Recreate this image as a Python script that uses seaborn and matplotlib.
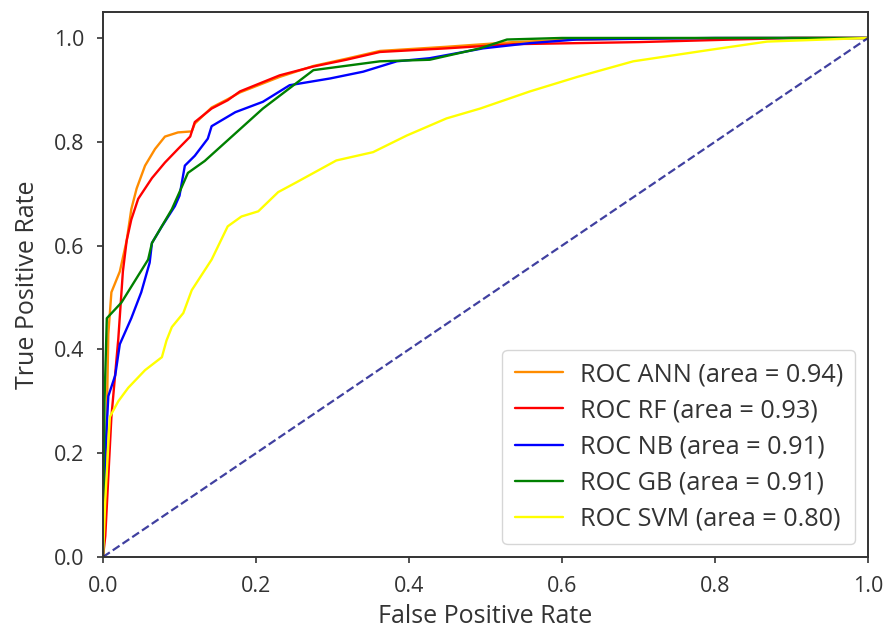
import matplotlib
matplotlib.use("Agg")
import matplotlib.pyplot as plt
import seaborn as sns
import pandas as pd

# ---- data ----
ann_fpr = [0, 0.003, 0.007, 0.011, 0.022, 0.031, 0.037, 0.044, 0.055, 0.068, 0.081, 0.098,
           0.116, 0.12, 0.142, 0.163, 0.179, 0.231, 0.275, 0.318, 0.362, 0.449, 0.536, 0.6,
           0.7, 0.85, 1.0]
ann_tpr = [0, 0.11, 0.43, 0.51, 0.55, 0.61, 0.67, 0.71, 0.754, 0.786, 0.81, 0.818,
           0.82, 0.835, 0.866, 0.882, 0.895, 0.925, 0.946, 0.96, 0.975, 0.983, 0.992, 0.996,
           0.999, 1.0, 1.0]

rf_fpr = [0, 0.003, 0.011, 0.02, 0.026, 0.031, 0.037, 0.046, 0.064, 0.081, 0.098, 0.114,
          0.12, 0.142, 0.163, 0.179, 0.231, 0.275, 0.318, 0.362, 0.449, 0.536, 0.7, 0.9, 1.0]
rf_tpr = [0, 0.04, 0.27, 0.42, 0.55, 0.61, 0.65, 0.69, 0.73, 0.76, 0.786, 0.81,
          0.838, 0.864, 0.88, 0.897, 0.928, 0.945, 0.958, 0.973, 0.98, 0.988, 0.992, 1.0, 1.0]

nb_fpr = [0, 0.003, 0.007, 0.016, 0.022, 0.037, 0.05, 0.061, 0.064, 0.077, 0.094, 0.1, 0.107,
          0.12, 0.137, 0.142, 0.173, 0.209, 0.244, 0.297, 0.34, 0.384, 0.427, 0.497, 0.558,
          0.619, 0.8, 1.0]
nb_tpr = [0, 0.2, 0.31, 0.35, 0.41, 0.46, 0.51, 0.567, 0.605, 0.637, 0.676, 0.696, 0.754,
          0.773, 0.806, 0.83, 0.857, 0.877, 0.909, 0.922, 0.935, 0.955, 0.961, 0.98, 0.99,
          0.997, 1.0, 1.0]

gb_fpr = [0, 0.002, 0.005, 0.024, 0.059, 0.064, 0.09, 0.1, 0.111, 0.133, 0.136, 0.209, 0.275,
          0.362, 0.427, 0.493, 0.528, 0.6, 1.0]
gb_tpr = [0, 0.3, 0.46, 0.49, 0.573, 0.605, 0.67, 0.703, 0.74, 0.763, 0.767, 0.864, 0.938,
          0.955, 0.958, 0.98, 0.997, 1.0, 1.0]

svm_fpr = [0, 0.003, 0.009, 0.02, 0.033, 0.055, 0.077, 0.083, 0.09, 0.105, 0.116, 0.142,
           0.163, 0.181, 0.203, 0.229, 0.253, 0.305, 0.353, 0.397, 0.449, 0.493, 0.558, 0.62,
           0.693, 0.793, 0.868, 1.0]
svm_tpr = [0, 0.11, 0.27, 0.30, 0.326, 0.36, 0.385, 0.417, 0.443, 0.47, 0.514, 0.573,
           0.637, 0.656, 0.666, 0.703, 0.722, 0.764, 0.78, 0.812, 0.845, 0.864, 0.897, 0.925,
           0.955, 0.977, 0.993, 1.0]

labels = ["ROC ANN (area = 0.94)", "ROC RF (area = 0.93)", "ROC NB (area = 0.91)",
          "ROC GB (area = 0.91)", "ROC SVM (area = 0.80)"]
colors = ["darkorange", "red", "blue", "green", "yellow"]
chance = [0.0, 1.0]

x_ticks = [0.0, 0.2, 0.4, 0.6, 0.8, 1.0]
y_ticks = [0.0, 0.2, 0.4, 0.6, 0.8, 1.0]

# ---- plot ----
sns.set_style("ticks")
plt.rcParams['font.family'] = ['Open Sans', 'DejaVu Sans']

fig = plt.figure(figsize=(8.84, 6.32), dpi=100)
ax = fig.add_axes([0.1165, 0.1187, 0.982 - 0.1165, 0.981 - 0.1187])

series = [(ann_fpr, ann_tpr), (rf_fpr, rf_tpr), (nb_fpr, nb_tpr),
          (gb_fpr, gb_tpr), (svm_fpr, svm_tpr)]
for (fx, ty), lab, col in zip(series, labels, colors):
    df = pd.DataFrame({"fpr": fx, "tpr": ty})
    sns.lineplot(data=df, x="fpr", y="tpr", ax=ax, color=col, label=lab,
                 sort=False, estimator=None, linewidth=1.7)

ax.plot(chance, chance, color="navy", linestyle="--", linewidth=1.6, alpha=0.75)

ax.set_xlim(0.0, 1.0)
ax.set_ylim(0.0, 1.05)
ax.set_xticks(x_ticks)
ax.set_yticks(y_ticks)
ax.tick_params(labelsize=15.5, colors="#333333", width=1.2, length=4.5, pad=9)
ax.set_xlabel("False Positive Rate", fontsize=18, color="#333333", labelpad=5)
ax.set_ylabel("True Positive Rate", fontsize=18, color="#333333", labelpad=10)
for s in ax.spines.values():
    s.set_color("#333333")
    s.set_linewidth(1.4)

leg = ax.legend(loc="lower right", fontsize=18.2, frameon=True, fancybox=True,
                framealpha=0.8, labelspacing=0.44, borderpad=0.5,
                handlelength=1.9, handletextpad=0.65)
for t in leg.get_texts():
    t.set_color("#333333")

fig.savefig("out.png", dpi=100)
